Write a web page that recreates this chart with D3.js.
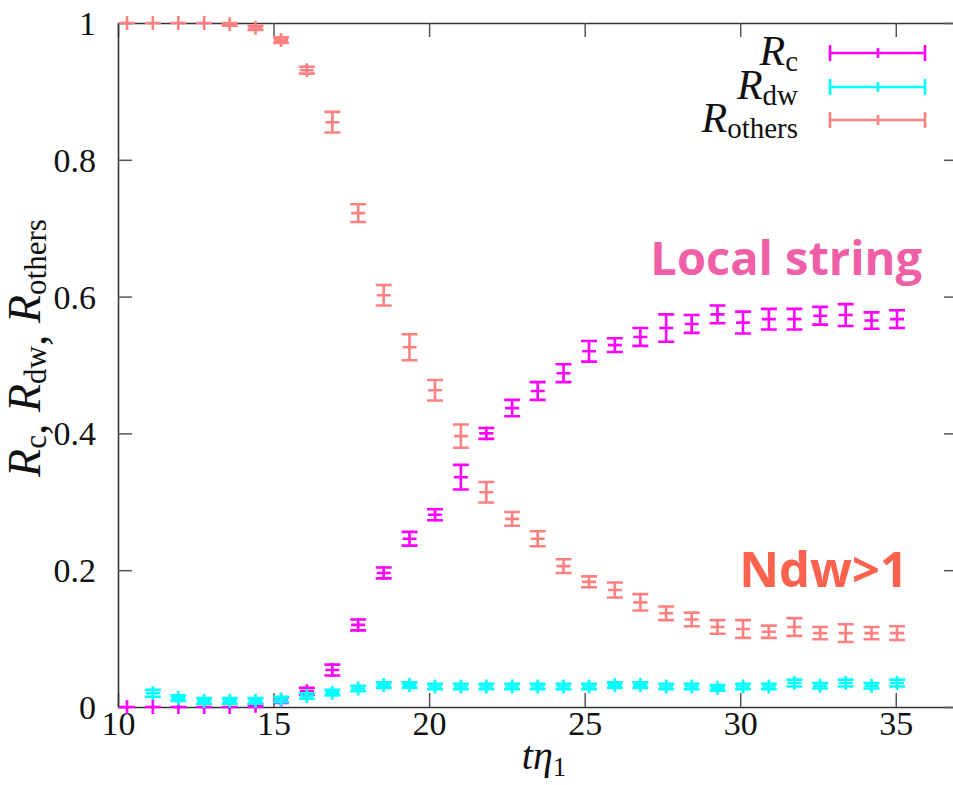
<!DOCTYPE html>
<html>
<head>
<meta charset="utf-8">
<script src="https://cdn.jsdelivr.net/npm/d3@7/dist/d3.min.js"></script>
<style>
  body { margin: 0; background: #fff; }
  svg { display: block; }
</style>
</head>
<body>
<svg id="chart" width="953" height="785"></svg>
<script>
// time t*eta1
var tvals = [10.29, 11.12, 11.94, 12.77, 13.59, 14.42, 15.24, 16.07, 16.89, 17.72, 18.54,
             19.37, 20.19, 21.02, 21.84, 22.67, 23.49, 24.32, 25.14, 25.97, 26.79,
             27.62, 28.44, 29.27, 30.09, 30.92, 31.74, 32.57, 33.39, 34.22, 35.04];

var rc = [0, 0, 0, 0, 0, 0.002, 0.010, 0.023, 0.054, 0.120, 0.196,
          0.246, 0.281, 0.336, 0.400, 0.437, 0.462, 0.488, 0.520, 0.529, 0.541,
          0.554, 0.560, 0.574, 0.562, 0.567, 0.567, 0.572, 0.573, 0.565, 0.567];
var rcErr = [0, 0, 0, 0, 0, 0.002, 0.004, 0.005, 0.008, 0.008, 0.008,
             0.010, 0.008, 0.018, 0.008, 0.012, 0.013, 0.013, 0.015, 0.010, 0.013,
             0.020, 0.013, 0.013, 0.016, 0.015, 0.015, 0.013, 0.016, 0.012, 0.013];

// first time has no domain wall point
var rdw = [null, 0.020, 0.013, 0.009, 0.009, 0.009, 0.011, 0.016, 0.021, 0.027, 0.032,
           0.032, 0.030, 0.030, 0.030, 0.030, 0.030, 0.030, 0.030, 0.032, 0.032,
           0.030, 0.030, 0.028, 0.030, 0.030, 0.035, 0.031, 0.035, 0.031, 0.035];
var rdwErr = [0, 0.005, 0.004, 0.004, 0.004, 0.004, 0.004, 0.004, 0.004, 0.004, 0.004,
              0.004, 0.004, 0.004, 0.004, 0.004, 0.004, 0.004, 0.004, 0.004, 0.004,
              0.004, 0.004, 0.004, 0.004, 0.004, 0.005, 0.004, 0.005, 0.004, 0.005];

var rothers = [1.0, 1.0, 1.0, 1.0, 0.998, 0.993, 0.975, 0.931, 0.855, 0.722, 0.602,
               0.526, 0.463, 0.396, 0.314, 0.275, 0.246, 0.206, 0.183, 0.171, 0.153,
               0.137, 0.128, 0.117, 0.114, 0.110, 0.117, 0.108, 0.108, 0.108, 0.108];
var rothersErr = [0, 0, 0, 0, 0.002, 0.003, 0.004, 0.005, 0.015, 0.013, 0.015,
                  0.019, 0.015, 0.017, 0.015, 0.010, 0.011, 0.010, 0.008, 0.011, 0.012,
                  0.010, 0.010, 0.010, 0.013, 0.009, 0.013, 0.009, 0.013, 0.009, 0.010];

var xTicks = [10, 15, 20, 25, 30, 35];
var yTicks = [0, 0.2, 0.4, 0.6, 0.8, 1];

var series = [
  {name: "c", vals: rc, errs: rcErr, color: "#ff00ff"},
  {name: "dw", vals: rdw, errs: rdwErr, color: "#00ffff"},
  {name: "others", vals: rothers, errs: rothersErr, color: "#ff8080"}
];

var svg = d3.select("#chart");
var padL = 118, padR = 958, padT = 23, padB = 707;

var x = d3.scaleLinear().domain([10, 37]).range([padL, padR]);
var y = d3.scaleLinear().domain([0, 1]).range([padB, padT]);

var serif = "'Liberation Serif', 'DejaVu Serif', serif";
var fmtY = d => d === 0 ? "0" : d === 1 ? "1" : d3.format(".1f")(d);

// axes, ticks inward
function styleAxis(g) {
  g.selectAll(".domain").attr("stroke", "#333").attr("stroke-width", 1.6);
  g.selectAll(".tick line").attr("stroke", "#555").attr("stroke-width", 1.5);
  g.selectAll("text").attr("font-family", serif).attr("font-size", 34).attr("fill", "#111");
}

svg.append("g").attr("transform", "translate(0," + padB + ")")
  .call(d3.axisBottom(x).tickValues(xTicks).tickSizeInner(-14).tickSizeOuter(0).tickPadding(4))
  .call(styleAxis)
  .selectAll("text").attr("dy", "0.7em");

svg.append("g").attr("transform", "translate(0," + padT + ")")
  .call(d3.axisTop(x).tickValues(xTicks).tickSizeInner(-14).tickSizeOuter(0).tickFormat(""))
  .call(styleAxis);

svg.append("g").attr("transform", "translate(" + padL + ",0)")
  .call(d3.axisLeft(y).tickValues(yTicks).tickSizeInner(-14).tickSizeOuter(0).tickPadding(22).tickFormat(fmtY))
  .call(styleAxis)
  .selectAll("text").attr("dy", "0.34em");

svg.append("g").attr("transform", "translate(" + padR + ",0)")
  .call(d3.axisRight(y).tickValues(yTicks).tickSizeInner(-14).tickSizeOuter(0).tickFormat(""))
  .call(styleAxis);

// error bars with + point
var capW = 8, plusW = 7;
series.forEach(function(s) {
  var g = svg.append("g").attr("stroke", s.color).attr("stroke-width", 2.6).attr("fill", "none");
  var rows = tvals.map((t, i) => ({t: t, v: s.vals[i], e: s.errs[i]})).filter(d => d.v != null);
  g.selectAll("path").data(rows).enter().append("path").attr("d", function(d) {
    var cx = x(d.t), y1 = y(d.v + d.e), y2 = y(d.v - d.e), cy = y(d.v);
    return "M" + cx + "," + y1 + "V" + y2 +
      "M" + (cx - capW) + "," + y1 + "H" + (cx + capW) +
      "M" + (cx - capW) + "," + y2 + "H" + (cx + capW) +
      "M" + (cx - plusW) + "," + cy + "H" + (cx + plusW) +
      "M" + cx + "," + (cy - plusW) + "V" + (cy + plusW);
  });
});

// legend
var legY = [53, 87, 120];
series.forEach(function(s, i) {
  var t = svg.append("text").attr("x", 798).attr("y", legY[i] + 12)
    .attr("text-anchor", "end").attr("font-family", serif).attr("font-size", 42).attr("fill", "#111");
  t.append("tspan").attr("font-style", "italic").text("R");
  t.append("tspan").attr("font-size", 29).attr("dy", 6).text(s.name);
  svg.append("path")
    .attr("d", "M830," + legY[i] + "H925M830," + (legY[i] - 8) + "V" + (legY[i] + 8) +
      "M925," + (legY[i] - 8) + "V" + (legY[i] + 8) + "M878," + (legY[i] - 5) + "V" + (legY[i] + 5))
    .attr("stroke", s.color).attr("stroke-width", 2.6).attr("fill", "none");
});

// axis titles
var xt = svg.append("text").attr("x", 544).attr("y", 769).attr("text-anchor", "middle")
  .attr("font-family", serif).attr("font-size", 40).attr("font-style", "italic").attr("fill", "#111");
xt.append("tspan").text("tη");
xt.append("tspan").attr("font-size", 27).attr("dy", 7).attr("font-style", "normal").text("1");

var yt = svg.append("text").attr("transform", "translate(40,348) rotate(-90)").attr("text-anchor", "middle")
  .attr("font-family", serif).attr("font-size", 46).attr("fill", "#111");
series.forEach(function(s, i) {
  yt.append("tspan").attr("font-style", "italic").attr("dy", i === 0 ? 0 : -6).text("R");
  yt.append("tspan").attr("font-size", 31).attr("dy", 6).text(s.name);
  if (i < 2) yt.append("tspan").text(", ");
});

// annotations
svg.append("text").attr("x", 922).attr("y", 275).attr("text-anchor", "end")
  .attr("font-family", "'Open Sans', Lato, sans-serif").attr("font-weight", 700).attr("font-size", 47)
  .attr("fill", "#ef5fa7").text("Local string");
svg.append("text").attr("x", 908).attr("y", 587).attr("text-anchor", "end")
  .attr("font-family", "'Open Sans', Lato, sans-serif").attr("font-weight", 700).attr("font-size", 49)
  .attr("fill", "#fc624d").text("Ndw>1");
</script>
</body>
</html>
